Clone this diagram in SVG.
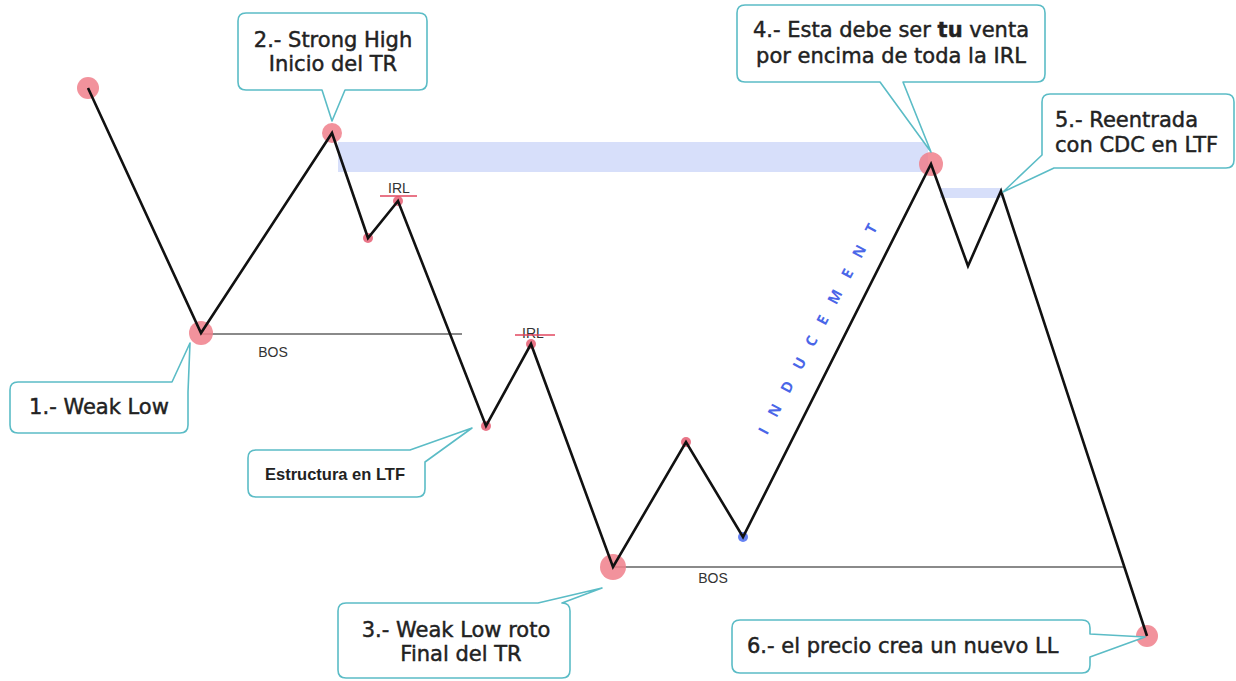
<svg xmlns="http://www.w3.org/2000/svg" width="1236" height="681" viewBox="0 0 1236 681">
<defs>
<style>
.box{fill:#fff;stroke:#5bbcc6;stroke-width:1.6;stroke-linejoin:round}
.t{font-family:"DejaVu Sans",Verdana,sans-serif;font-size:21px;fill:#222;stroke:#222;stroke-width:0.45}
.ts{font-family:"Liberation Sans",Arial,sans-serif;font-size:14px;fill:#333}
.big{fill:#f07f8b;fill-opacity:0.85}
.dot{fill:#e2475f;fill-opacity:0.75}
.band{fill:#d7dffa}
.bos{stroke:#8a8a8a;stroke-width:2;fill:none}
.irl{stroke:#e2475f;stroke-width:1.6}
.price{fill:none;stroke:#111;stroke-width:2.6;stroke-linejoin:miter}
</style>
</defs>
<rect width="1236" height="681" fill="#fff"/>
<g id="bands">
<rect class="band" x="338" y="142" width="590" height="30"/>
<rect class="band" x="940" y="188" width="62" height="10"/>
</g>
<g id="bos-lines">
<line class="bos" x1="201" y1="334" x2="462" y2="334"/>
<text class="ts" x="273" y="357" text-anchor="middle">BOS</text>
<line class="bos" x1="613" y1="567" x2="1125" y2="567"/>
<text class="ts" x="713" y="583" text-anchor="middle">BOS</text>
</g>
<g id="irl-labels">
<text class="ts" x="399" y="193" text-anchor="middle" font-size="15">IRL</text>
<line class="irl" x1="380" y1="196" x2="417" y2="196"/>
<text class="ts" x="533" y="338" text-anchor="middle" font-size="15">IRL</text>
<line class="irl" x1="515" y1="335" x2="555" y2="335"/>
</g>
<g id="points">
<circle id="p0" class="big" cx="88" cy="88" r="11"/>
<circle id="p1" class="big" cx="201" cy="333" r="12"/>
<circle id="p2" class="big" cx="332" cy="133" r="10"/>
<circle id="p3" class="dot" cx="368" cy="238" r="5"/>
<circle id="p4" class="dot" cx="398" cy="201" r="5"/>
<circle id="p5" class="dot" cx="486" cy="426" r="5"/>
<circle id="p6" class="dot" cx="531" cy="344" r="5"/>
<circle id="p7" class="big" cx="613" cy="567" r="13"/>
<circle id="p8" class="dot" cx="686" cy="442" r="5"/>
<circle id="p9" cx="743" cy="537" r="5" fill="#4a6cf0" fill-opacity="0.85"/>
<circle id="p10" class="big" cx="931" cy="164" r="12"/>
<circle id="p13" class="big" cx="1147" cy="636" r="11"/>
</g>
<g id="connectors">
<polyline class="price" points="88,88 201,333 332,133 368,238 398,201 486,426 531,344 613,567 686,442 743,537 931,164 968,266 1001,191 1147,636"/>
</g>
<text id="inducement" x="826" y="325" text-anchor="middle" transform="rotate(-62 826 325)" font-family="'Open Sans','DejaVu Sans',sans-serif" font-size="15" font-weight="bold" letter-spacing="15" fill="#4a66e8">INDUCEMENT</text>
<g id="callout1">
<path class="box" d="M18,382 H172 L190,343 L188,392 V425 Q188,433 180,433 H18 Q10,433 10,425 V390 Q10,382 18,382 Z"/>
<text class="t" x="99" y="414" text-anchor="middle">1.- Weak Low</text>
</g>
<g id="callout2">
<path class="box" d="M246,13 H419 Q427,13 427,21 V82 Q427,90 419,90 H345 L332,121 L322,90 H246 Q238,90 238,82 V21 Q238,13 246,13 Z"/>
<text class="t" x="333" y="47" text-anchor="middle">2.- Strong High</text>
<text class="t" x="333" y="71" text-anchor="middle">Inicio del TR</text>
</g>
<g id="callout-ltf">
<path class="box" d="M256,450 H410 L472,428 L425,462 V489 Q425,497 417,497 H256 Q248,497 248,489 V458 Q248,450 256,450 Z"/>
<text x="265" y="480" font-family="'Liberation Sans',Arial,sans-serif" font-size="16.5" font-weight="bold" fill="#222">Estructura en LTF</text>
</g>
<g id="callout3">
<path class="box" d="M346,603 H538 L602,588 L562,603 Q570,603 570,611 V670 Q570,678 562,678 H346 Q338,678 338,670 V611 Q338,603 346,603 Z"/>
<text class="t" x="456" y="637" text-anchor="middle">3.- Weak Low roto</text>
<text class="t" x="461" y="661" text-anchor="middle">Final del TR</text>
</g>
<g id="callout4">
<path class="box" d="M745,5 H1037 Q1045,5 1045,13 V74 Q1045,82 1037,82 H903 L931,152 L880,82 H745 Q737,82 737,74 V13 Q737,5 745,5 Z"/>
<text class="t" x="891" y="37" text-anchor="middle">4.- Esta debe ser <tspan font-weight="bold">tu</tspan> venta</text>
<text class="t" x="891" y="63" text-anchor="middle">por encima de toda la IRL</text>
</g>
<g id="callout5">
<path class="box" d="M1050,94 H1226 Q1234,94 1234,102 V160 Q1234,168 1226,168 H1054 L1003,192 L1042,155 V102 Q1042,94 1050,94 Z"/>
<text class="t" x="1055" y="127">5.- Reentrada</text>
<text class="t" x="1055" y="152">con CDC en LTF</text>
</g>
<g id="callout6">
<path class="box" d="M740,620 H1082 Q1090,620 1090,628 V634 L1145,637 L1090,657 V665 Q1090,673 1082,673 H740 Q732,673 732,665 V628 Q732,620 740,620 Z"/>
<text class="t" x="747" y="653">6.- el precio crea un nuevo LL</text>
</g>
</svg>
